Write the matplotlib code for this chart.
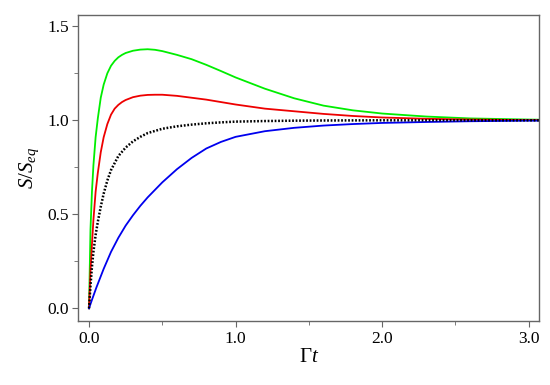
import matplotlib
matplotlib.use('Agg')
import matplotlib.pyplot as plt
from matplotlib.ticker import MultipleLocator, FormatStrFormatter

plt.rcParams['font.family'] = 'serif'
plt.rcParams['font.serif'] = ['Liberation Serif', 'DejaVu Serif']
plt.rcParams['mathtext.fontset'] = 'custom'
plt.rcParams['mathtext.rm'] = 'Liberation Serif'
plt.rcParams['mathtext.it'] = 'Liberation Serif:italic'

# values
t_green = [0, 0.01, 0.02, 0.03, 0.045, 0.06, 0.08, 0.1, 0.125, 0.15, 0.175, 0.2, 0.225, 0.25, 0.3, 0.35, 0.4,
           0.45, 0.5, 0.6, 0.7, 0.8, 0.9, 1.0, 1.2, 1.4, 1.6, 1.8, 2.0, 2.3, 2.6, 3.0, 3.1]
s_green = [0, 0.42, 0.62, 0.76, 0.91, 1.01, 1.12, 1.19, 1.25, 1.29, 1.316, 1.335, 1.348, 1.358, 1.370, 1.376, 1.378,
           1.375, 1.368, 1.348, 1.325, 1.295, 1.262, 1.228, 1.168, 1.117, 1.078, 1.053, 1.036, 1.02, 1.01, 1.004, 1.003]

t_red = t_green
s_red = [0, 0.2, 0.34, 0.47, 0.62, 0.72, 0.83, 0.91, 0.98, 1.03, 1.062, 1.082, 1.097, 1.108, 1.123, 1.131, 1.135,
         1.136, 1.136, 1.13, 1.12, 1.11, 1.097, 1.084, 1.062, 1.048, 1.034, 1.023, 1.015, 1.008, 1.004, 1.001, 1.001]

t_black = [0, 0.01, 0.02, 0.03, 0.045, 0.06, 0.08, 0.1, 0.125, 0.15, 0.2, 0.25, 0.3, 0.35, 0.4,
           0.5, 0.6, 0.7, 0.8, 0.9, 1.0, 1.2, 1.4, 1.6, 2.0, 3.1]
s_black = [0, 0.12, 0.22, 0.3, 0.39, 0.46, 0.54, 0.61, 0.68, 0.735, 0.81, 0.855, 0.888, 0.912, 0.932,
           0.955, 0.968, 0.977, 0.984, 0.989, 0.993, 0.996, 0.998, 0.999, 1.0, 1.0]

t_blue = [0, 0.02, 0.05, 0.1, 0.15, 0.2, 0.25, 0.3, 0.35, 0.4, 0.5, 0.6, 0.7, 0.8, 0.9, 1.0,
          1.2, 1.4, 1.6, 1.8, 2.0, 2.3, 2.6, 3.0, 3.1]
s_blue = [0, 0.045, 0.11, 0.21, 0.3, 0.375, 0.44, 0.495, 0.545, 0.59, 0.67, 0.74, 0.8, 0.85, 0.885, 0.912,
          0.942, 0.96, 0.972, 0.98, 0.986, 0.991, 0.995, 0.998, 0.998]

fig = plt.figure(figsize=(5.5, 3.85), dpi=100)
ax = fig.add_axes([0.1424, 0.166, 0.8376, 0.795])

ax.plot(t_green, s_green, color='#00ee00', lw=1.3)
ax.plot(t_red, s_red, color='#ee0000', lw=1.3)
ax.plot(t_blue, s_blue, color='#0000ee', lw=1.3)
ax.plot(t_black, s_black, color='black', lw=1.8, linestyle=(0, (0.7, 0.7)))

ax.set_xlim(-0.073, 3.07)
ax.set_ylim(-0.068, 1.56)
ax.xaxis.set_major_locator(MultipleLocator(1.0))
ax.xaxis.set_minor_locator(MultipleLocator(0.5))
ax.yaxis.set_major_locator(MultipleLocator(0.5))
ax.yaxis.set_minor_locator(MultipleLocator(0.25))
ax.xaxis.set_major_formatter(FormatStrFormatter('%.1f'))
ax.yaxis.set_major_formatter(FormatStrFormatter('%.1f'))

for sp in ax.spines.values():
    sp.set_color('#666666')
    sp.set_linewidth(1.0)
ax.tick_params(which='both', direction='out', color='#666666', top=False, right=False)
ax.tick_params(which='major', length=4, labelsize=12.5, pad=3)
ax.tick_params(which='minor', length=3)

ax.set_xlabel(r'$\Gamma t$', fontsize=15, labelpad=1)
ax.set_ylabel(r'$S/S_{eq}$', fontsize=15, labelpad=4)

plt.savefig('out.png', dpi=100)
